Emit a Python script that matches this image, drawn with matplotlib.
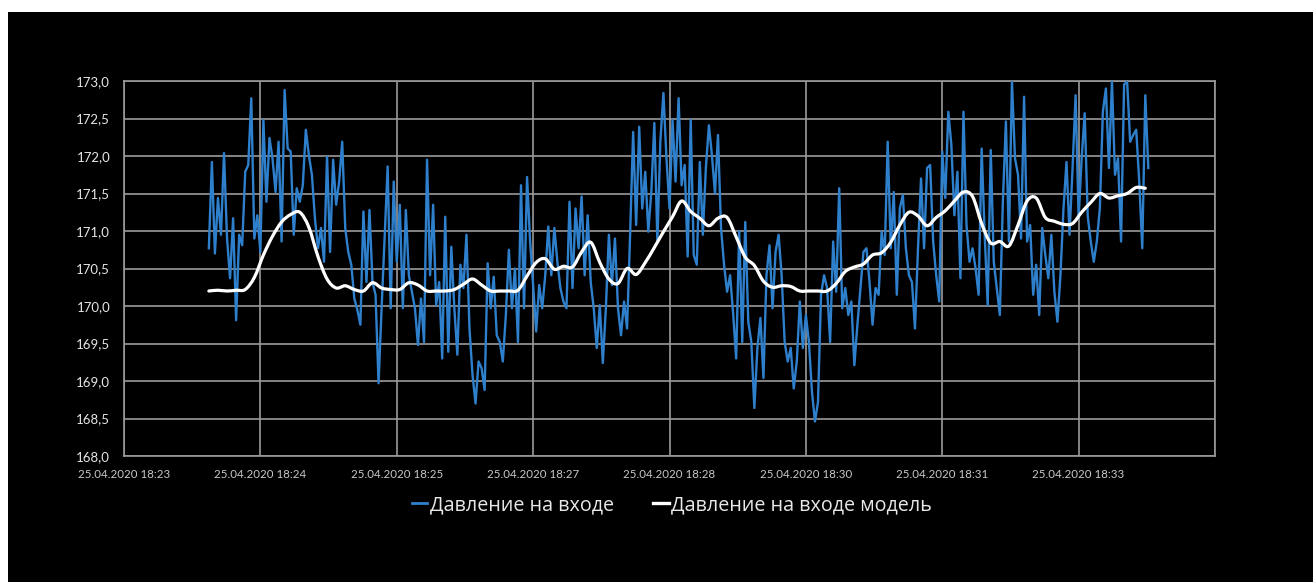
import numpy as np
import matplotlib
matplotlib.use("Agg")
import matplotlib.pyplot as plt
from matplotlib.patches import Rectangle, PathPatch
from matplotlib.path import Path
from matplotlib.lines import Line2D

# ---------------- data ----------------
tick_labels = ["25.04.2020 18:23", "25.04.2020 18:24", "25.04.2020 18:25",
               "25.04.2020 18:27", "25.04.2020 18:28", "25.04.2020 18:30",
               "25.04.2020 18:31", "25.04.2020 18:33", ""]
samples_per_label = 45          # category-axis samples between labelled ticks
series_start = 28               # index of the first recorded sample

pressure = [
    # 18:23 - 18:24
    170.77, 171.92, 170.70, 171.44, 170.95, 172.04, 170.90, 170.37, 171.17, 169.81,
    170.95, 170.81, 171.79, 171.88, 172.77, 170.90, 171.21, 170.72, 172.48, 171.39,
    172.24, 171.97, 171.52, 172.19, 170.86, 172.88, 172.10, 172.06, 170.95, 171.57,
    171.39, 171.61, 172.35, 172.01, 171.75, 171.17, 170.77, 171.04, 170.59, 171.99,
    170.72, 171.95, 171.35, 171.66, 172.19, 171.04, 170.72, 170.55, 170.10, 169.95,
    # 18:24 - 18:25
    169.75, 171.26, 170.32, 171.28, 170.32, 170.15, 168.97, 169.97, 170.90, 171.86,
    169.97, 171.66, 170.59, 171.35, 169.97, 171.28, 170.41, 170.19, 169.97, 169.48,
    170.10, 169.52, 171.95, 170.41, 171.35, 170.01, 170.32, 169.30, 171.19, 169.39,
    170.79, 169.97, 169.35, 170.55, 170.24, 170.95, 169.70, 169.08, 168.70, 169.26,
    169.17, 168.88, 170.57, 169.97, 170.39, 169.61, 169.52, 169.26, 169.88, 170.75,
    169.97, 170.50, 169.52,
    # 18:25 - 18:28
    171.61, 169.97, 171.72, 170.86, 170.28, 169.66, 170.28, 169.97, 170.41, 171.06,
    170.41, 171.04, 170.59, 170.24, 170.06, 169.97, 171.39, 170.24, 171.30, 170.77,
    171.46, 170.41, 171.21, 170.32, 169.97, 169.44, 170.01, 169.24, 169.97, 170.95,
    170.28, 170.90, 169.97, 169.61, 170.06, 169.70, 170.95, 172.32, 171.08, 172.39,
    171.30, 171.79, 170.99, 171.52, 172.44, 170.86, 172.21, 172.84, 171.97, 171.30,
    172.48, 171.66, 172.77,
    # 18:28 - 18:30
    171.61, 171.88, 170.66, 172.48, 170.68, 170.55, 171.92, 170.95, 171.84, 172.41,
    172.01, 171.50, 172.28, 171.04, 170.55, 170.19, 170.41, 169.90, 169.30, 171.00,
    169.52, 171.12, 169.79, 169.52, 168.64, 169.44, 169.84, 169.04, 170.41, 170.81,
    169.97, 170.72, 170.95, 170.41, 169.52, 169.26, 169.44, 168.90, 169.26, 170.06,
    169.44, 169.88, 169.52, 168.86, 168.46, 168.72, 170.15, 170.41, 170.24, 169.52,
    170.86, 170.19, 171.57,
    # 18:30 - 18:31
    169.97, 170.24, 169.88, 170.06, 169.21, 169.75, 170.24, 170.72, 170.77, 170.32,
    169.75, 170.24, 170.15, 170.99, 170.68, 172.19, 170.77, 171.52, 170.15, 171.30,
    171.48, 170.77, 170.41, 170.32, 169.70, 170.77, 171.70, 170.77, 171.84, 171.88,
    170.86, 170.41, 170.06, 172.06, 171.44, 172.59, 172.15, 171.21, 171.79, 170.37,
    172.59, 171.08, 170.59, 170.77, 170.50, 170.15, 172.10, 170.95, 170.01, 172.08,
    170.59, 170.24, 169.88,
    # 18:31 - 18:33+
    171.39, 172.46, 170.86, 173.00, 171.97, 171.75, 170.90, 172.79, 170.86, 171.08,
    170.15, 170.55, 169.88, 171.04, 170.68, 170.37, 170.95, 170.19, 169.79, 170.41,
    171.30, 171.92, 170.95, 171.84, 172.81, 171.17, 171.97, 172.57, 171.20, 170.86,
    170.59, 170.86, 171.30, 172.59, 172.90, 171.84, 173.00, 171.75, 171.97, 170.86,
    172.95, 173.00, 172.19, 172.28, 172.35, 171.66, 170.77, 172.81, 171.84,
]

model_step = 3   # model output is logged every third sample
model = [
    170.20, 170.21, 170.20, 170.21, 170.22, 170.38, 170.68, 170.93, 171.12, 171.22,
    171.25, 171.05, 170.66, 170.36, 170.24, 170.27, 170.22, 170.20, 170.31, 170.24,
    170.22, 170.22, 170.31, 170.28, 170.20, 170.20, 170.20, 170.22, 170.29, 170.36,
    170.28, 170.20, 170.20, 170.20, 170.21, 170.40, 170.58, 170.63, 170.49, 170.53,
    170.52, 170.72, 170.85, 170.58, 170.36, 170.30, 170.50, 170.42, 170.58, 170.78,
    170.99, 171.19, 171.40, 171.26, 171.17, 171.07, 171.17, 171.18, 170.92, 170.65,
    170.54, 170.33, 170.25, 170.27, 170.26, 170.20, 170.20, 170.20, 170.20, 170.30,
    170.46, 170.52, 170.56, 170.68, 170.71, 170.85, 171.08, 171.25, 171.20, 171.07,
    171.18, 171.27, 171.40, 171.52, 171.46, 171.10, 170.84, 170.86, 170.80, 171.08,
    171.40, 171.44, 171.18, 171.13, 171.09, 171.10, 171.25, 171.38, 171.50, 171.44,
    171.47, 171.50, 171.58, 171.57,
]

y_ticks = [168.0, 168.5, 169.0, 169.5, 170.0, 170.5, 171.0, 171.5, 172.0, 172.5, 173.0]
series_names = ["Давление на входе", "Давление на входе модель"]


def smooth_path(xs, ys):
    """Excel-style 'smoothed line': cubic Bezier segments through every data point."""
    p = np.column_stack([xs, ys]).astype(float)
    ext = np.vstack([p[0], p, p[-1]])
    verts = [p[0]]
    codes = [Path.MOVETO]
    for i in range(len(p) - 1):
        p0, p1, p2, p3 = ext[i], ext[i + 1], ext[i + 2], ext[i + 3]
        verts += [p1 + (p2 - p0) / 6.0, p2 - (p3 - p1) / 6.0, p2]
        codes += [Path.CURVE4] * 3
    return Path(verts, codes)


# ---------------- figure ----------------
W, H = 1313, 582
fig = plt.figure(figsize=(W / 100, H / 100), dpi=100, facecolor="black")
# thin white margin (top & left) of the screenshot
fig.patches.append(Rectangle((0, 1 - 12 / H), 1, 12 / H, transform=fig.transFigure,
                             facecolor="white", edgecolor="none", zorder=-1))
fig.patches.append(Rectangle((0, 0), 8 / W, 1, transform=fig.transFigure,
                             facecolor="white", edgecolor="none", zorder=-1))

ax = fig.add_axes([124 / W, 126 / H, (1215 - 124) / W, (456 - 81) / H])
ax.set_facecolor("black")

x_p = series_start + np.arange(len(pressure))
x_m = series_start + model_step * np.arange(len(model))

blue = "#2f80cc"
ax.plot(x_p, pressure, color=blue, lw=1.7, zorder=3, solid_joinstyle="round")
ax.add_patch(PathPatch(smooth_path(x_m, model), facecolor="none", edgecolor="white",
                       lw=2.3, zorder=4, capstyle="round", joinstyle="round"))

n_ticks = len(tick_labels)
xt = np.arange(n_ticks) * samples_per_label
ax.set_xlim(xt[0], xt[-1])
ax.set_ylim(y_ticks[0], y_ticks[-1])
ax.set_xticks(xt)
ax.set_yticks(y_ticks)

fam = ["Lato", "Open Sans", "DejaVu Sans"]
ax.set_xticklabels(tick_labels, fontsize=8.3, color="#c8c8c8", family=fam)
ax.set_yticklabels([f"{v:.1f}".replace(".", ",") for v in y_ticks],
                   fontsize=9.5, color="#e6e6e6", family=fam)
ax.tick_params(axis="both", length=0)
ax.tick_params(axis="x", pad=9)
ax.tick_params(axis="y", pad=10)

grid_col = "#9a9a9a"
ax.grid(True, color=grid_col, lw=1.2, zorder=1)
for s in ax.spines.values():
    s.set_color(grid_col)
    s.set_linewidth(1.2)

handles = [Line2D([], [], color=blue, lw=2.0),
           Line2D([], [], color="white", lw=2.4)]
leg = fig.legend(handles, series_names, loc="center", bbox_to_anchor=(672 / W, 1 - 505 / H),
                 ncol=2, frameon=False, handlelength=0.8, handletextpad=0.12,
                 columnspacing=2.0, prop={"family": ["Open Sans", "DejaVu Sans"], "size": 14.2})
for t in leg.get_texts():
    t.set_color("#e8e8e8")

fig.savefig("out.png", dpi=100, facecolor=fig.get_facecolor())
